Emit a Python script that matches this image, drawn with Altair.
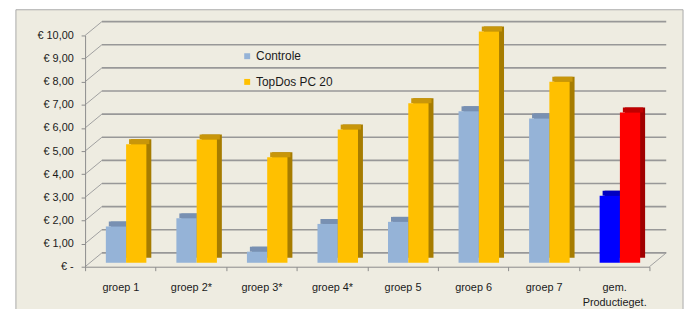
import altair as alt
import pandas as pd

# ---- data ----
categories = ["groep 1", "groep 2*", "groep 3*", "groep 4*", "groep 5",
              "groep 6", "groep 7", "gem. Productieget."]
controle = [1.57, 1.92, 0.48, 1.68, 1.77, 6.55, 6.24, 2.90]
topdos = [5.13, 5.33, 4.56, 5.76, 6.90, 10.00, 7.83, 6.50]
series = ["Controle", "TopDos PC 20"]
y_ticks = [0, 1, 2, 3, 4, 5, 6, 7, 8, 9, 10]
y_tick_labels = ["€ -", "€ 1,00", "€ 2,00", "€ 3,00", "€ 4,00", "€ 5,00",
                 "€ 6,00", "€ 7,00", "€ 8,00", "€ 9,00", "€ 10,00"]

color_keys = ["Controle", "TopDos PC 20", "gem. Controle", "gem. TopDos PC 20"]
front_colors = ["#95B3D7", "#FFC000", "#0000FF", "#FF0000"]
cap_colors = ["#7890B2", "#C8960A", "#0000C0", "#C00000"]
side_colors = ["#6A84A8", "#A67C00", "#00009A", "#A00000"]

rows = []
for i, cat in enumerate(categories):
    for s, vals in zip(series, [controle, topdos]):
        key = ("gem. " + s) if cat.startswith("gem.") else s
        rows.append({"categorie": cat, "serie": s, "waarde": vals[i], "kleur": key})
df = pd.DataFrame(rows)
grid_df = pd.DataFrame({"v": y_ticks})

FONT = "Liberation Sans"
W, H = 571, 234
DX, DY = 17, 14          # depth of the 3D box
BY = 4                   # bar front plane shift (vertical)
SX, SY = 5, 5            # bar depth
PAIR0, PAIR_W = 21, 41   # bar pair position inside each category band

y_scale = alt.Scale(domain=[0, 10], nice=False, zero=True)
x_scale = alt.Scale(domain=categories, paddingInner=0, paddingOuter=0)


def xo_scale(shift):
    return alt.Scale(domain=series, paddingInner=0, paddingOuter=0,
                     range=[PAIR0 + shift, PAIR0 + PAIR_W + shift])


label_expr = " : ".join(
    f"datum.value == {v} ? '{l}'" for v, l in zip(y_ticks, y_tick_labels)
) + " : ''"

y_axis = alt.Axis(values=y_ticks, labelExpr=label_expr, tickSize=4, labelPadding=8,
                  domainColor="#8C8C8C", tickColor="#8C8C8C", grid=False, title=None,
                  labelOverlap=False, labelBound=False,
                  labelFont=FONT, labelFontSize=11, labelColor="#1A1A1A", zindex=1)
x_axis = alt.Axis(title=None, tickBand="extent", tickSize=4, labelPadding=11, labelAngle=0,
                  labelExpr="datum.label == 'gem. Productieget.' ? ['gem.', 'Productieget.'] : datum.label",
                  labelLineHeight=15, domainColor="#8C8C8C", tickColor="#8C8C8C",
                  labelOverlap=False, labelBound=False,
                  labelFont=FONT, labelFontSize=11, labelColor="#1A1A1A", grid=False, zindex=1)

box = alt.Chart(alt.Data(values=[{}])).mark_rect(
    fill="#EEECE1", stroke="#AAAAAA", strokeWidth=1
).encode(x=alt.value(-70), x2=alt.value(605), y=alt.value(-26), y2=alt.value(290))

back_grid = alt.Chart(grid_df).mark_rule(
    color="#989898", strokeWidth=1.6, yOffset=-DY, y2Offset=-DY
).encode(
    y=alt.Y("v:Q", scale=y_scale, axis=y_axis),
    x=alt.value(DX), x2=alt.value(W + DX),
)

side_grid = alt.Chart(grid_df).mark_rule(
    color="#A0A0A0", strokeWidth=1, y2Offset=-DY
).encode(
    y=alt.Y("v:Q", scale=y_scale, axis=y_axis),
    y2=alt.Y2("v:Q"),
    x=alt.value(0), x2=alt.value(DX),
)

floor_right = alt.Chart(grid_df[grid_df.v == 0]).mark_rule(
    color="#A0A0A0", strokeWidth=1, y2Offset=-DY
).encode(
    y=alt.Y("v:Q", scale=y_scale, axis=y_axis),
    y2=alt.Y2("v:Q"),
    x=alt.value(W), x2=alt.value(W + DX),
)

x_enc = alt.X("categorie:N", scale=x_scale, sort=categories, axis=x_axis)

side = alt.Chart(df).mark_bar(
    yOffset=-BY - SY, y2Offset=-BY - SY
).encode(
    x=x_enc,
    xOffset=alt.XOffset("serie:N", scale=xo_scale(SX), sort=series),
    y=alt.Y("waarde:Q", scale=y_scale, stack=None, axis=y_axis),
    y2=alt.Y2(datum=0),
    fill=alt.Fill("kleur:N", scale=alt.Scale(domain=color_keys, range=side_colors), legend=None),
)

cap = alt.Chart(df).mark_bar(
    yOffset=-BY - SY, y2Offset=-BY
).encode(
    x=x_enc,
    xOffset=alt.XOffset("serie:N", scale=xo_scale(3), sort=series),
    y=alt.Y("waarde:Q", scale=y_scale, stack=None, axis=y_axis),
    y2=alt.Y2("waarde:Q"),
    fill=alt.Fill("kleur:N", scale=alt.Scale(domain=color_keys, range=cap_colors), legend=None),
)

front = alt.Chart(df).mark_bar(
    yOffset=-BY, y2Offset=-BY
).encode(
    x=x_enc,
    xOffset=alt.XOffset("serie:N", scale=xo_scale(0), sort=series),
    y=alt.Y("waarde:Q", scale=y_scale, stack=None, axis=y_axis),
    y2=alt.Y2(datum=0),
    color=alt.Color("kleur:N", scale=alt.Scale(domain=color_keys, range=front_colors),
                    legend=alt.Legend(values=series, title=None, orient="none",
                                      legendX=158, legendY=15, symbolType="square",
                                      symbolSize=36, symbolStrokeWidth=0,
                                      labelFont=FONT, labelFontSize=12, labelColor="#1A1A1A",
                                      rowPadding=14, labelOffset=3, padding=0, zindex=1)),
)

chart = alt.layer(box, back_grid, side_grid, floor_right, side, cap, front).resolve_scale(
    fill="independent", xOffset="independent"
).properties(
    width=W, height=H,
    padding={"left": 78, "top": 26, "right": 37, "bottom": 41},
    autosize=alt.AutoSizeParams(type="none"),
    background="white",
).configure_view(strokeWidth=0)

chart.save("out.html", embed_options={"renderer": "svg", "actions": False})
